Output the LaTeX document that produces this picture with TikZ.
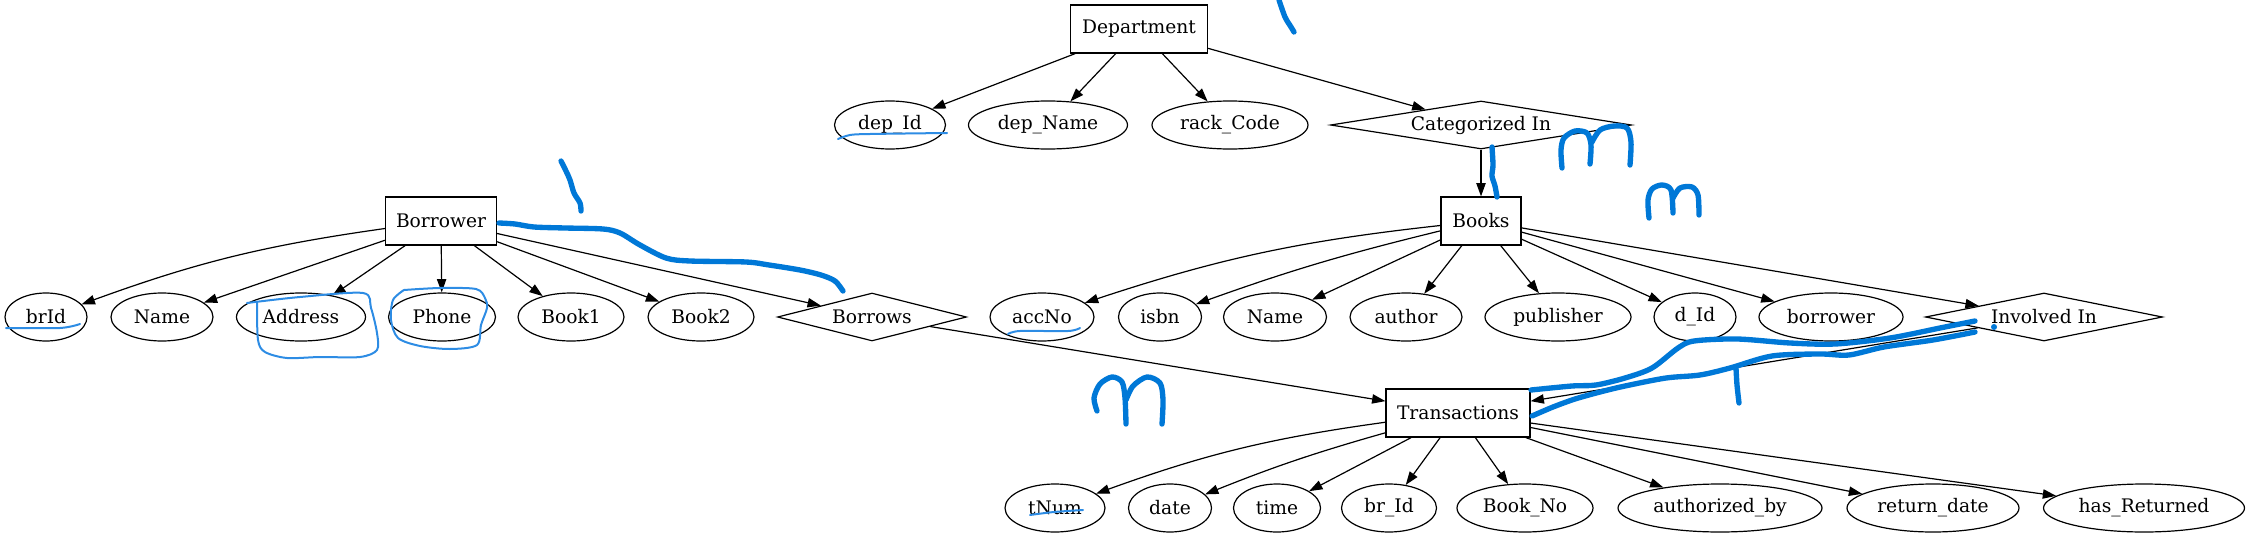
\documentclass[tikz,border=0pt]{standalone}
\usepackage{fontspec}
\setmainfont{DejaVu Serif}
\usetikzlibrary{shapes.geometric,arrows.meta}
\definecolor{scribblue}{RGB}{0,120,215}
\definecolor{scribthin}{RGB}{45,140,228}
\begin{document}
\begin{tikzpicture}[x=0.75pt,y=-0.75pt,
  every node/.style={font=\fontsize{14pt}{17pt}\selectfont, inner sep=0pt, line width=0.9pt},
  entity/.style={draw, rectangle, minimum height=36pt, minimum width=#1*0.75pt},
  attr/.style={draw, ellipse, minimum height=36pt, minimum width=#1*0.75pt},
  rel/.style={draw, diamond, shape aspect=5, minimum height=36pt, minimum width=#1*0.75pt},
  arr/.style={line width=0.9pt, -{Triangle[length=10pt,width=7pt]}},
  scrib/.style={draw=scribblue, line width=4pt, line cap=round, line join=round},
  scribt/.style={draw=scribthin, line width=1.5pt, line cap=round, line join=round}]
\useasboundingbox (0,0) rectangle (2250,539);

% Department
\node[entity=137] (dept) at (1139,29) {Department};
\node[attr=111] (depid) at (890,125) {dep\_Id};
\node[attr=159] (depname) at (1048,125) {dep\_Name};
\node[attr=156] (rack) at (1230,125) {rack\_Code};
\node[rel=301] (cat) at (1481,125) {Categorized In};

% Borrower
\node[entity=111] (borrower) at (441,221) {Borrower};
\node[attr=82] (brid) at (46,317) {brId};
\node[attr=102] (bname) at (162,317) {Name};
\node[attr=129] (address) at (301,317) {Address};
\node[attr=107] (phone) at (442,317) {Phone};
\node[attr=106] (book1) at (571,317) {Book1};
\node[attr=106] (book2) at (701,317) {Book2};
\node[rel=189] (borrows) at (872,317) {Borrows};

% Books
\node[entity=80] (books) at (1481,221) {Books};
\node[attr=104] (accno) at (1042,317) {accNo};
\node[attr=83] (isbn) at (1160,317) {isbn};
\node[attr=103] (bkname) at (1275,317) {Name};
\node[attr=112] (author) at (1406,317) {author};
\node[attr=146] (publisher) at (1558,317) {publisher};
\node[attr=82] (did) at (1695,317) {d\_Id};
\node[attr=144] (bkborrower) at (1831,317) {borrower};
\node[rel=237] (involved) at (2044,317) {Involved In};

% Transactions
\node[entity=144] (trans) at (1458,413) {Transactions};
\node[attr=100] (tnum) at (1055,508) {tNum};
\node[attr=83] (date) at (1170,508) {date};
\node[attr=87] (time) at (1277,508) {time};
\node[attr=95] (brid2) at (1389,508) {br\_Id};
\node[attr=136] (bookno) at (1525,508) {Book\_No};
\node[attr=204] (authby) at (1720,508) {authorized\_by};
\node[attr=172] (retdate) at (1933,508) {return\_date};
\node[attr=201] (hasret) at (2144,508) {has\_Returned};

% connectors
\draw[arr] (dept) -- (depid);
\draw[arr] (dept) -- (depname);
\draw[arr] (dept) -- (rack);
\draw[arr] (dept) -- (cat);
\draw[arr] (cat) -- (books);

\draw[arr] (borrower) to[bend right=6] (brid);
\draw[arr] (borrower) -- (bname);
\draw[arr] (borrower) -- (address);
\draw[arr] (borrower) -- (phone);
\draw[arr] (borrower) -- (book1);
\draw[arr] (borrower) -- (book2);
\draw[arr] (borrower) -- (borrows);
\draw[arr] (borrows) -- (trans);

\draw[arr] (books) to[bend right=6] (accno);
\draw[arr] (books) to[bend right=3] (isbn);
\draw[arr] (books) -- (bkname);
\draw[arr] (books) -- (author);
\draw[arr] (books) -- (publisher);
\draw[arr] (books) -- (did);
\draw[arr] (books) -- (bkborrower);
\draw[arr] (books) -- (involved);
\draw[arr] (involved) -- (trans);

\draw[arr] (trans) to[bend right=6] (tnum);
\draw[arr] (trans) to[bend right=3] (date);
\draw[arr] (trans) -- (time);
\draw[arr] (trans) -- (brid2);
\draw[arr] (trans) -- (bookno);
\draw[arr] (trans) -- (authby);
\draw[arr] (trans) -- (retdate);
\draw[arr] (trans) -- (hasret);

% hand-drawn blue marks
\draw[scrib] plot[smooth] coordinates {(1279,0) (1285,17) (1291,27) (1294,32)};
\draw[scrib] plot[smooth] coordinates {(561,161) (566,171) (570,180) (574,193) (580,203) (581,211)};
\draw[scrib] plot[smooth] coordinates {(499,223) (515,224) (534,227) (565,228) (603,229) (620,233) (640,245) (666,258) (690,261) (746,262) (769,265) (800,270) (821,275) (835,281) (843,291)};
\draw[scrib] plot[smooth] coordinates {(1492,147) (1493,165) (1492,176) (1495,186) (1497,197)};
\draw[scrib] plot[smooth] coordinates {(1562,168) (1561,150) (1564,138) (1575,131) (1587,133) (1591,145) (1590,164)};
\draw[scrib] plot[smooth] coordinates {(1592,142) (1600,130) (1614,126) (1627,128) (1631,142) (1630,165)};
\draw[scrib] plot[smooth] coordinates {(1649,218) (1648,200) (1652,189) (1662,185) (1671,190) (1673,213)};
\draw[scrib] plot[smooth] coordinates {(1673,198) (1680,188) (1692,187) (1698,195) (1699,215)};
\draw[scrib] plot[smooth] coordinates {(1097,411) (1094,398) (1100,384) (1112,377) (1122,382) (1125,398) (1126,424)};
\draw[scrib] plot[smooth] coordinates {(1126,400) (1133,386) (1147,377) (1160,383) (1163,400) (1162,424)};
\draw[scrib] plot[smooth] coordinates {(1531,390) (1572,386) (1596,385) (1625,378) (1652,368) (1678,348) (1694,341) (1737,339) (1790,343) (1835,344) (1890,338) (1940,328) (1975,321)};
\draw[scrib] plot[smooth] coordinates {(1532,416) (1553,407) (1575,399) (1600,392) (1625,386) (1666,378) (1700,375) (1730,368) (1772,356) (1820,354) (1849,355) (1884,347) (1933,340) (1975,332)};
\fill[scribblue] (1994,327) circle (3);
\draw[scrib] plot[smooth] coordinates {(1736,368) (1737,385) (1739,403)};

\draw[scribt] plot[smooth] coordinates {(838,139) (850,135) (870,134) (947,133)};
\draw[scribt] plot[smooth] coordinates {(6,328) (60,328) (80,324)};
\draw[scribt] plot[smooth] coordinates {(1008,334) (1020,331) (1068,331) (1080,328)};
\draw[scribt] plot[smooth] coordinates {(1030,515) (1054,512) (1083,510)};
\draw[scribt] plot[smooth] coordinates {(247,303) (300,297) (363,293) (371,308) (377,333) (377,350) (360,357) (320,357) (287,358) (265,352) (258,340) (257,303)};
\draw[scribt] plot[smooth] coordinates {(404,290) (440,288) (476,289) (485,298) (487,308) (481,325) (477,345) (450,349) (420,346) (398,338) (391,320) (393,300) (404,290)};
\end{tikzpicture}
\end{document}
